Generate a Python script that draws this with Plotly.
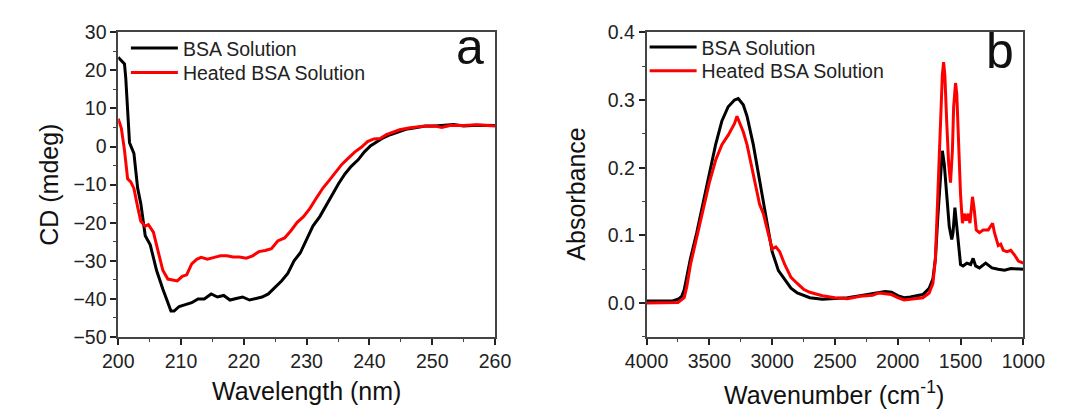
import plotly.graph_objects as go

# panel a: CD spectra
cd_wl_bsa = [200, 201, 201.2, 201.8, 202.5, 203.1, 203.6, 204.3, 205.1, 206.1, 207.1, 208.4, 208.9,
             209.7, 210.7, 211.7, 212.7, 213.7, 214.8, 215.8, 216.8, 217.8, 218.8, 219.8, 220.9,
             221.9, 222.9, 223.9, 224.9, 226, 227, 228, 229, 230, 231, 232.1, 233.1, 234.1, 235.1,
             236.1, 237.1, 238.2, 239.2, 240.2, 241.2, 242.2, 243.3, 244.3, 245.8, 247.3, 248.9,
             250.4, 251.9, 253.4, 255, 257, 260]
cd_bsa = [23.4, 21.7, 18, 1, -1.8, -11, -15, -23.4, -25.8, -32.5, -37.4, -43.2, -43.2,
          -42, -41.5, -41, -40, -40, -38.7, -39.5, -39.1, -40.3, -39.9, -39.5, -40.3,
          -39.9, -39.5, -38.7, -37, -35.3, -33.3, -30, -27.9, -24.2, -20.9, -18.4, -15.5, -12.6, -9.7,
          -7.2, -5.2, -3.5, -1.4, 0.2, 1.3, 2.3, 3.1, 3.7, 4.5, 4.9, 5.4,
          5.4, 5.6, 5.8, 5.4, 5.6, 5.5]

cd_wl_heated = [200, 200.5, 201, 201.5, 202, 202.5, 203.1, 203.6, 204.3, 204.8, 205.6, 206.4, 207.1,
                207.9, 208.7, 209.4, 210.2, 210.9, 211.7, 212.5, 213.2, 214.2, 215.3, 216.3, 217.3,
                218.3, 219.3, 220.4, 221.4, 222.4, 223.4, 224.4, 225.4, 226.5, 227.5, 228.5, 229.5,
                230.5, 231.6, 232.6, 233.6, 234.6, 235.6, 236.6, 237.7, 238.7, 239.7, 240.7, 241.7,
                242.7, 243.8, 244.8, 246.5, 248.5, 250.5, 251.5, 253, 255, 257, 260]
cd_heated = [7.3, 4.8, -1, -8.5, -9.3, -11, -15.9, -19.6, -20.9, -20.5, -22.5, -28.3, -32.5,
             -34.8, -35.1, -35.3, -34.1, -33.7, -30.8, -29.6, -29.1, -29.6, -29.1, -28.7, -28.7,
             -29, -29, -29.3, -28.7, -27.6, -27.3, -26.8, -24.8, -24, -22.1, -19.9, -18.4,
             -16.3, -13.4, -10.9, -8.9, -6.8, -4.7, -3.1, -1.4, -0.2, 1.3, 2, 2.1,
             3.1, 3.8, 4.4, 4.9, 5.3, 5.4, 5.0, 5.6, 5.5, 5.7, 5.4]

# panel b: IR absorbance
ir_wn_bsa = [4000, 3800, 3750, 3720, 3700, 3680, 3650, 3600, 3550, 3500, 3450, 3400, 3350, 3300,
             3270, 3230, 3200, 3150, 3100, 3050, 3000, 2950, 2900, 2850, 2800, 2700, 2600, 2500,
             2400, 2300, 2200, 2100, 2050, 2000, 1950, 1900, 1800, 1750, 1720, 1700, 1680, 1660,
             1645, 1630, 1610, 1590, 1570, 1560, 1545, 1535, 1520, 1500, 1480, 1450, 1420, 1400,
             1380, 1350, 1300, 1250, 1200, 1150, 1100, 1050, 1000]
ir_bsa = [0.0033, 0.003, 0.0056, 0.010, 0.0196, 0.038, 0.066, 0.104, 0.146, 0.19, 0.234, 0.269, 0.29, 0.30,
          0.302, 0.293, 0.276, 0.234, 0.183, 0.127, 0.076, 0.048, 0.034, 0.022, 0.015, 0.008, 0.0056, 0.0065,
          0.008, 0.011, 0.014, 0.017, 0.016, 0.011, 0.008, 0.009, 0.0126, 0.022, 0.036, 0.066, 0.13, 0.188,
          0.225, 0.206, 0.16, 0.113, 0.094, 0.104, 0.141, 0.122, 0.085, 0.057, 0.055, 0.059, 0.057, 0.066,
          0.055, 0.052, 0.059, 0.052, 0.05, 0.0485, 0.051, 0.05, 0.05]

ir_wn_heated = [4000, 3750, 3700, 3680, 3650, 3600, 3550, 3500, 3450, 3400, 3350, 3300, 3280, 3260,
                3230, 3200, 3150, 3100, 3070, 3050, 3000, 2970, 2940, 2900, 2850, 2800, 2750, 2700,
                2600, 2500, 2400, 2300, 2200, 2150, 2100, 2050, 2000, 1950, 1900, 1800, 1750, 1720,
                1700, 1680, 1660, 1645, 1635, 1625, 1610, 1595, 1580, 1565, 1555, 1540, 1530, 1515,
                1500, 1485, 1470, 1455, 1440, 1425, 1405, 1390, 1375, 1350, 1320, 1280, 1245, 1230,
                1200, 1180, 1160, 1130, 1100, 1070, 1040, 1000]
ir_heated = [0.0, 0.001, 0.008, 0.024, 0.057, 0.097, 0.136, 0.178, 0.211, 0.234, 0.248, 0.265, 0.276, 0.267,
             0.253, 0.234, 0.192, 0.146, 0.132, 0.118, 0.080, 0.083, 0.076, 0.057, 0.038, 0.029, 0.0205, 0.016,
             0.011, 0.008, 0.0065, 0.010, 0.0117, 0.015, 0.0135, 0.0126, 0.008, 0.0047, 0.0056, 0.008, 0.015, 0.029,
             0.066, 0.169, 0.276, 0.337, 0.356, 0.337, 0.267, 0.206, 0.178, 0.225, 0.29, 0.325, 0.309, 0.225,
             0.16, 0.118, 0.132, 0.122, 0.132, 0.118, 0.157, 0.136, 0.108, 0.104, 0.108, 0.108, 0.118, 0.104,
             0.085, 0.087, 0.078, 0.076, 0.078, 0.071, 0.062, 0.059]

# the page body has an 8px margin, so the figure is shrunk by 8px and positions shifted back
OFF = 8
W, H = 1077 - OFF, 418 - OFF
FONT = "Liberation Sans, Arial, sans-serif"

def px_x(p):
    return (p - OFF) / W

def px_y(p):
    return 1 - (p - OFF) / H

fig = go.Figure()
fig.add_trace(go.Scatter(x=cd_wl_bsa, y=cd_bsa, mode="lines", name="BSA Solution",
                         line=dict(color="black", width=3), xaxis="x", yaxis="y", legend="legend"))
fig.add_trace(go.Scatter(x=cd_wl_heated, y=cd_heated, mode="lines", name="Heated BSA Solution",
                         line=dict(color="#ff0000", width=3), xaxis="x", yaxis="y", legend="legend2"))
fig.add_trace(go.Scatter(x=ir_wn_bsa, y=ir_bsa, mode="lines", name="BSA Solution",
                         line=dict(color="black", width=3), xaxis="x2", yaxis="y2", legend="legend3"))
fig.add_trace(go.Scatter(x=ir_wn_heated, y=ir_heated, mode="lines", name="Heated BSA Solution",
                         line=dict(color="#ff0000", width=3), xaxis="x2", yaxis="y2", legend="legend4"))

ax_common = dict(showgrid=False, zeroline=False, showline=True, linecolor="#444", linewidth=1.5,
                 mirror=True, ticks="outside", ticklen=6, tickwidth=1.5, tickcolor="#222",
                 tickfont=dict(family=FONT, size=19.5, color="#222"))
minor = dict(ticks="outside", ticklen=3, tickwidth=1, tickcolor="#444")

def leg(x, y):
    return dict(x=px_x(x), y=px_y(y), xanchor="left", yanchor="middle", bgcolor="rgba(0,0,0,0)",
                font=dict(family=FONT, size=19.5, color="#222"), itemwidth=47)

ydom = [px_y(344), px_y(22)]
fig.update_layout(
    width=W, height=H, margin=dict(l=0, r=0, t=0, b=0),
    plot_bgcolor="white", paper_bgcolor="white",
    font=dict(family=FONT, color="#222"),
    xaxis=dict(ax_common, domain=[px_x(100), px_x(493)], range=[200, 260], dtick=10,
               minor=dict(minor, dtick=5), anchor="y"),
    yaxis=dict(ax_common, domain=ydom, range=[-50, 30], dtick=10,
               minor=dict(minor, dtick=5), anchor="x"),
    xaxis2=dict(ax_common, domain=[px_x(651), px_x(1044)], range=[4000, 1000], dtick=500,
                minor=dict(minor, dtick=250), anchor="y2"),
    yaxis2=dict(ax_common, domain=ydom, range=[-0.05, 0.4], dtick=0.1, tickformat=".1f",
                minor=dict(minor, dtick=0.05), anchor="x2"),
    legend=leg(108, 39),
    legend2=leg(108, 65),
    legend3=leg(649, 38),
    legend4=leg(649, 63),
    showlegend=True,
)

annos = [
    dict(text="Wavelength (nm)", x=px_x(296), y=px_y(401), size=25, angle=0),
    dict(text="CD (mdeg)", x=px_x(27), y=px_y(183), size=25, angle=-90),
    dict(text="Wavenumber (cm<sup>-1</sup>)", x=px_x(847), y=px_y(403), size=25, angle=0),
    dict(text="Absorbance", x=px_x(577), y=px_y(193), size=25, angle=-90),
    dict(text="a", x=px_x(467), y=px_y(38), size=50, angle=0),
    dict(text="b", x=px_x(1020), y=px_y(42), size=50, angle=0),
]
for a in annos:
    fig.add_annotation(text=a["text"], x=a["x"], y=a["y"], xref="paper", yref="paper",
                       xanchor="center", yanchor="middle", showarrow=False, textangle=a["angle"],
                       font=dict(family=FONT, size=a["size"], color="#111"))

fig.write_html("out.html")
